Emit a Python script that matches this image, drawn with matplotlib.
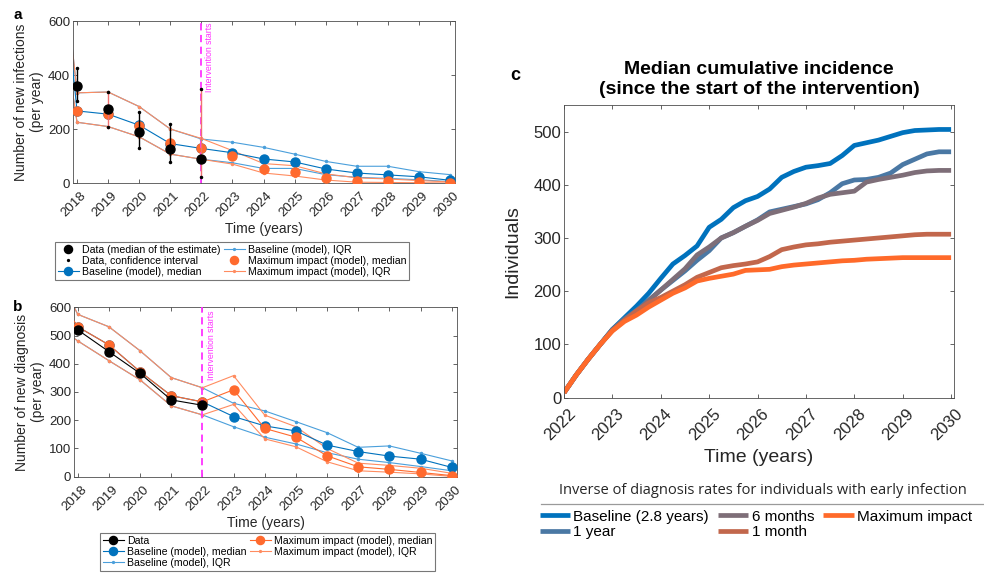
import matplotlib
matplotlib.use("Agg")
import matplotlib.pyplot as plt
from matplotlib.lines import Line2D
from matplotlib.transforms import ScaledTranslation

plt.rcParams['font.family'] = ['Liberation Sans', 'DejaVu Sans']

# ---------------- data ----------------
model_years = list(range(2017, 2031))
data_years = [2018, 2019, 2020, 2021, 2022]
tick_years = list(range(2018, 2031))

# panel a: new infections
a_data_med = [359, 275, 190, 127, 90]
a_data_lo = [305, 208, 128, 78, 23]
a_data_hi = [425, 336, 264, 218, 350]
a_base_med = [1400, 267, 255, 214, 146, 128, 112, 89, 78, 52, 37, 30, 23, 10]
a_base_lo = [1000, 225, 209, 171, 107, 88, 75, 54, 54, 31, 21, 17, 12, 5]
a_base_hi = [1430, 334, 337, 283, 200, 163, 151, 132, 107, 80, 62, 62, 42, 31]
a_max_med = [1400, 267, 257, 212, 147, 128, 99, 53, 41, 20, 9, 7, 3, 1]
a_max_lo = [1000, 225, 209, 171, 107, 88, 70, 37, 26, 11, 3, 2, 1, 0]
a_max_hi = [1430, 334, 337, 283, 200, 165, 120, 72, 64, 34, 19, 15, 9, 4]

# panel b: new diagnoses
b_data_med = [520, 443, 366, 272, 253]
b_base_med = [700, 531, 467, 372, 287, 265, 213, 180, 162, 112, 89, 73, 62, 33]
b_base_hi = [800, 575, 531, 446, 351, 315, 260, 233, 195, 156, 104, 109, 83, 56]
b_base_lo = [560, 481, 411, 343, 251, 219, 177, 140, 116, 85, 62, 50, 36, 21]
b_max_med = [700, 531, 467, 372, 287, 265, 308, 171, 140, 74, 35, 26, 15, 4]
b_max_hi = [800, 575, 531, 446, 351, 315, 358, 218, 177, 100, 48, 40, 30, 12]
b_max_lo = [560, 481, 411, 343, 251, 219, 256, 134, 106, 53, 21, 16, 10, 1]

# panel c: median cumulative incidence (quarter-year grid from 2022)
c_time = [2022 + 0.25 * i for i in range(33)]
c_baseline = [9, 42, 72, 100, 128, 150, 172, 196, 224, 251, 267, 285, 320, 335, 357, 370, 378,
              392, 414, 425, 433, 436, 440, 455, 474, 479, 484, 491, 498, 502, 503, 504, 504]
c_1year = [9, 42, 72, 100, 128, 148, 164, 183, 202, 220, 238, 258, 276, 300, 310, 322, 334,
           349, 354, 359, 364, 372, 385, 402, 409, 410, 414, 422, 438, 448, 458, 462, 462]
c_6months = [9, 42, 72, 100, 127, 146, 161, 182, 202, 222, 242, 268, 283, 300, 310, 322, 333,
             346, 352, 358, 365, 375, 382, 385, 388, 405, 410, 414, 418, 423, 426, 427, 427]
c_1month = [9, 42, 72, 100, 126, 145, 163, 178, 188, 200, 212, 226, 235, 244, 248, 251, 255,
            265, 278, 283, 287, 289, 292, 294, 296, 298, 300, 302, 304, 306, 307, 307, 307]
c_maximpact = [9, 42, 72, 100, 125, 143, 155, 170, 183, 196, 206, 219, 224, 228, 232, 239, 240,
               241, 246, 249, 251, 253, 255, 257, 258, 260, 261, 262, 263, 263, 263, 263, 263]
c_labels = ['Baseline (2.8 years)', '1 year', '6 months', '1 month', 'Maximum impact']

# ---------------- styles ----------------
BLUE = '#0072BD'
BLUE_L = '#4A9FDB'
ORANGE = '#FF6A2E'
ORANGE_L = '#FF8C60'
MAGENTA = '#FF33FF'
DARK = '#262626'
c_colors = ['#0072BD', '#4A78A4', '#7E6E78', '#C2674C', '#FF6A2A']

W, H = 984, 575
fig = plt.figure(figsize=(W / 100, H / 100), dpi=100)


def frac(left, top, right, bottom):
    return [left / W, 1 - bottom / H, (right - left) / W, (bottom - top) / H]


def style(ax, labelsize):
    ax.tick_params(direction='in', top=True, right=True, length=3, width=0.5,
                   colors=DARK, labelsize=labelsize, pad=2)
    for s in ax.spines.values():
        s.set_color('#4d4d4d')
        s.set_linewidth(0.6)


def year_ticks(ax, years, size, dx, pad):
    ax.set_xticks(years)
    ax.set_xticklabels([str(y) for y in years], rotation=45, ha='right', va='center',
                       rotation_mode='anchor', fontsize=size, color=DARK)
    ax.tick_params(axis='x', pad=pad)
    off = ScaledTranslation(dx / 100, 0, fig.dpi_scale_trans)
    for lbl in ax.get_xticklabels():
        lbl.set_transform(lbl.get_transform() + off)


# ---------------- panel a ----------------
ax_a = fig.add_axes(frac(73, 21, 455, 183))
style(ax_a, 9.5)
h_dm, = ax_a.plot(data_years, a_data_med, 'o', color='black', ms=6.5, zorder=6)
ci_colors = ['black', '#F07070', 'black', 'black', '#F07070']
for x, lo, hi, cc in zip(data_years, a_data_lo, a_data_hi, ci_colors):
    ax_a.plot([x, x], [lo, hi], '-', color=cc, lw=1.0, zorder=5)
h_ci, = ax_a.plot(data_years + data_years, a_data_lo + a_data_hi, '.', color='black',
                  ms=3, ls='none', zorder=6)
h_bm, = ax_a.plot(model_years, a_base_med, '-o', color=BLUE, lw=0.8, ms=6.5, zorder=3)
h_bi, = ax_a.plot(model_years, a_base_hi, '-', marker='.', color=BLUE_L, lw=0.8, ms=3, zorder=2)
ax_a.plot(model_years, a_base_lo, '-', marker='.', color=BLUE_L, lw=0.8, ms=3, zorder=2)
h_mm, = ax_a.plot(model_years, a_max_med, 'o', color=ORANGE, ms=6.5, ls='none', zorder=4)
h_mi, = ax_a.plot(model_years, a_max_hi, '-', marker='.', color=ORANGE_L, lw=0.8, ms=3, zorder=2)
ax_a.plot(model_years, a_max_lo, '-', marker='.', color=ORANGE_L, lw=0.8, ms=3, zorder=2)
ax_a.axvline(2022, color=MAGENTA, ls='--', lw=1.3, dashes=(4, 2.5), zorder=4)
ax_a.text(2022.12, 593, 'Intervention starts', rotation=90, va='top', ha='left',
          color=MAGENTA, fontsize=6.3)
ax_a.set_xlim(2017.87, 2030.16)
ax_a.set_ylim(0, 600)
ax_a.set_yticks([0, 200, 400, 600])
year_ticks(ax_a, tick_years, 9.5, 7, 8)
ax_a.set_xlabel('Time (years)', fontsize=10, color=DARK, labelpad=2)
ax_a.set_ylabel('Number of new infections\n(per year)', fontsize=10, color=DARK, labelpad=3)
fig.text(18 / W, 1 - 15 / H, 'a', fontsize=11, fontweight='bold', ha='center', va='center')

fig.legend([h_dm, h_ci, h_bm, h_bi, h_mm, h_mi],
           ['Data (median of the estimate)', 'Data, confidence interval',
            'Baseline (model), median', 'Baseline (model), IQR',
            'Maximum impact (model), median', 'Maximum impact (model), IQR'],
           loc='upper left', bbox_to_anchor=(55 / W, 1 - 242 / H), ncol=2, fontsize=7.6,
           frameon=True, fancybox=False, edgecolor='#555555', borderpad=0.25,
           labelspacing=0.12, handlelength=2.0, handletextpad=0.3, columnspacing=0.3,
           borderaxespad=0, markerscale=0.9).get_frame().set_linewidth(0.8)

# ---------------- panel b ----------------
ax_b = fig.add_axes(frac(74, 307.3, 457, 476.7))
style(ax_b, 9.5)
h_bm2, = ax_b.plot(model_years, b_base_med, '-o', color=BLUE, lw=0.8, ms=6.5, zorder=3)
h_bi2, = ax_b.plot(model_years, b_base_hi, '-', marker='.', color=BLUE_L, lw=0.8, ms=3, zorder=2)
ax_b.plot(model_years, b_base_lo, '-', marker='.', color=BLUE_L, lw=0.8, ms=3, zorder=2)
h_mm2, = ax_b.plot(model_years, b_max_med, '-o', color=ORANGE, lw=0.8, ms=6.5, zorder=4)
h_mi2, = ax_b.plot(model_years, b_max_hi, '-', marker='.', color=ORANGE_L, lw=0.8, ms=3, zorder=2)
ax_b.plot(model_years, b_max_lo, '-', marker='.', color=ORANGE_L, lw=0.8, ms=3, zorder=2)
h_d2, = ax_b.plot(data_years, b_data_med, '-o', color='black', lw=0.8, ms=6.5, zorder=5)
ax_b.axvline(2022, color=MAGENTA, ls='--', lw=1.3, dashes=(4, 2.5), zorder=4)
ax_b.text(2022.14, 588, 'Intervention starts', rotation=90, va='top', ha='left',
          color=MAGENTA, fontsize=6.3)
ax_b.set_xlim(2017.88, 2030.17)
ax_b.set_ylim(0, 600)
ax_b.set_yticks(range(0, 601, 100))
year_ticks(ax_b, tick_years, 9.5, 7, 8)
ax_b.set_xlabel('Time (years)', fontsize=10, color=DARK, labelpad=2)
ax_b.set_ylabel('Number of new diagnosis\n(per year)', fontsize=10, color=DARK, labelpad=3)
fig.text(18 / W, 1 - 307 / H, 'b', fontsize=11, fontweight='bold', ha='center', va='center')

fig.legend([h_d2, h_bm2, h_bi2, h_mm2, h_mi2],
           ['Data', 'Baseline (model), median', 'Baseline (model), IQR',
            'Maximum impact (model), median', 'Maximum impact (model), IQR'],
           loc='upper left', bbox_to_anchor=(100 / W, 1 - 533 / H), ncol=2, fontsize=7.6,
           frameon=True, fancybox=False, edgecolor='#555555', borderpad=0.25,
           labelspacing=0.12, handlelength=2.0, handletextpad=0.3, columnspacing=0.3,
           borderaxespad=0, markerscale=0.9).get_frame().set_linewidth(0.8)

# ---------------- panel c ----------------
ax_c = fig.add_axes(frac(564, 105, 954, 397.5))
style(ax_c, 12)
c_series = [c_baseline, c_1year, c_6months, c_1month, c_maximpact]
c_handles = []
for vals, col in zip(c_series, c_colors):
    h, = ax_c.plot(c_time, vals, '-', color=col, lw=3.4, solid_capstyle='butt')
    c_handles.append(h)
ax_c.set_xlim(2022, 2030.06)
ax_c.set_ylim(0, 550)
ax_c.set_yticks(range(0, 501, 100))
year_ticks(ax_c, list(range(2022, 2031)), 12, 9, 10)
ax_c.set_xlabel('Time (years)', fontsize=14, color=DARK, labelpad=4)
ax_c.set_ylabel('Individuals', fontsize=14, color=DARK, labelpad=9)
ax_c.set_title('Median cumulative incidence\n(since the start of the intervention)',
               fontsize=14, fontweight='bold', pad=8, linespacing=1.25)
fig.text(515 / W, 1 - 75 / H, 'c', fontsize=13, fontweight='bold', ha='center', va='center')

fig.text(763 / W, 1 - 491 / H, 'Inverse of diagnosis rates for individuals with early infection',
         ha='center', va='center', fontsize=10.5, family='Open Sans', color=DARK)
fig.add_artist(Line2D([541 / W, 1.0], [1 - 504 / H, 1 - 504 / H], color='#9a9a9a', lw=0.9))
fig.legend(c_handles, c_labels, loc='upper left', bbox_to_anchor=(538 / W, 1 - 508 / H),
           ncol=3, fontsize=11, frameon=False, labelspacing=0.1, handlelength=2.0,
           handletextpad=0.2, columnspacing=0.6, borderaxespad=0, borderpad=0.1)

fig.savefig('out.png', dpi=100)
